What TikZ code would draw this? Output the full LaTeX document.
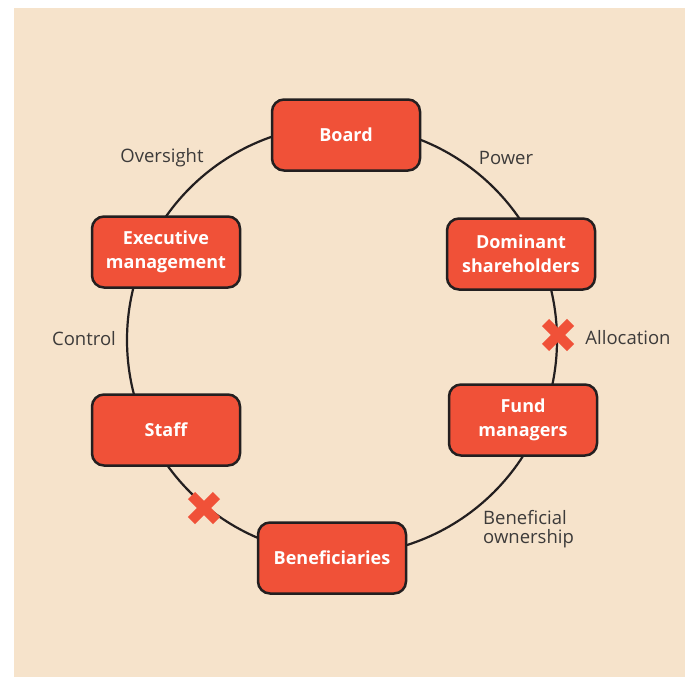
\documentclass[tikz,border=0pt]{standalone}
\usepackage{fontspec}
\setmainfont{Open Sans}
\definecolor{peach}{HTML}{F6E3CB}
\definecolor{coral}{HTML}{F05138}
\definecolor{ink}{HTML}{231F20}
\definecolor{greytext}{HTML}{3D3B3A}

\begin{document}
\begin{tikzpicture}
  [x=1pt,y=-1pt,
   every node/.style={font=\fontsize{18.5}{19}\selectfont},
   box/.style={rectangle,rounded corners=12pt,draw=ink,line width=2.5pt,fill=coral,
     text=white,font=\bfseries\fontsize{18}{24}\selectfont,align=center,
     minimum width=148pt,minimum height=71pt,inner sep=0pt},
   lbl/.style={text=greytext}]
  \useasboundingbox (0,0) rectangle (692,677);
  \fill[peach] (14,8) rectangle (685,677);
  \coordinate (ring) at (342,340);
  \draw[ink,line width=2.2pt] (ring) circle[radius=215];
  \node[box] (board) at (346,135) {Board};
  \node[box] (exec)  at (166,252) {Executive\\management};
  \node[box] (dom)   at (521,254) {Dominant\\shareholders};
  \node[box] (fund)  at (523,420) {Fund\\managers};
  \node[box] (staff) at (166,430) {Staff};
  \node[box] (benef) at (332,558) {Beneficiaries};
  \node[lbl] (oversight) at (162,158) {Oversight};
  \node[lbl] (power)     at (506,158) {Power};
  \node[lbl] (control)   at (84,339)  {Control};
  \node[lbl] (alloc)     at (628,338) {Allocation};
  \node[lbl,align=left,anchor=west,inner sep=0pt] (owner) at (483,529) {Beneficial\\ownership};
  \coordinate (cutA) at (558,335);
  \coordinate (cutB) at (204,508);
  \foreach \c in {cutA,cutB}
  \draw[coral,line width=10pt,shift={(\c)}] (-12.5,-12.5) -- (12.5,12.5) (-12.5,12.5) -- (12.5,-12.5);
\end{tikzpicture}
\end{document}
